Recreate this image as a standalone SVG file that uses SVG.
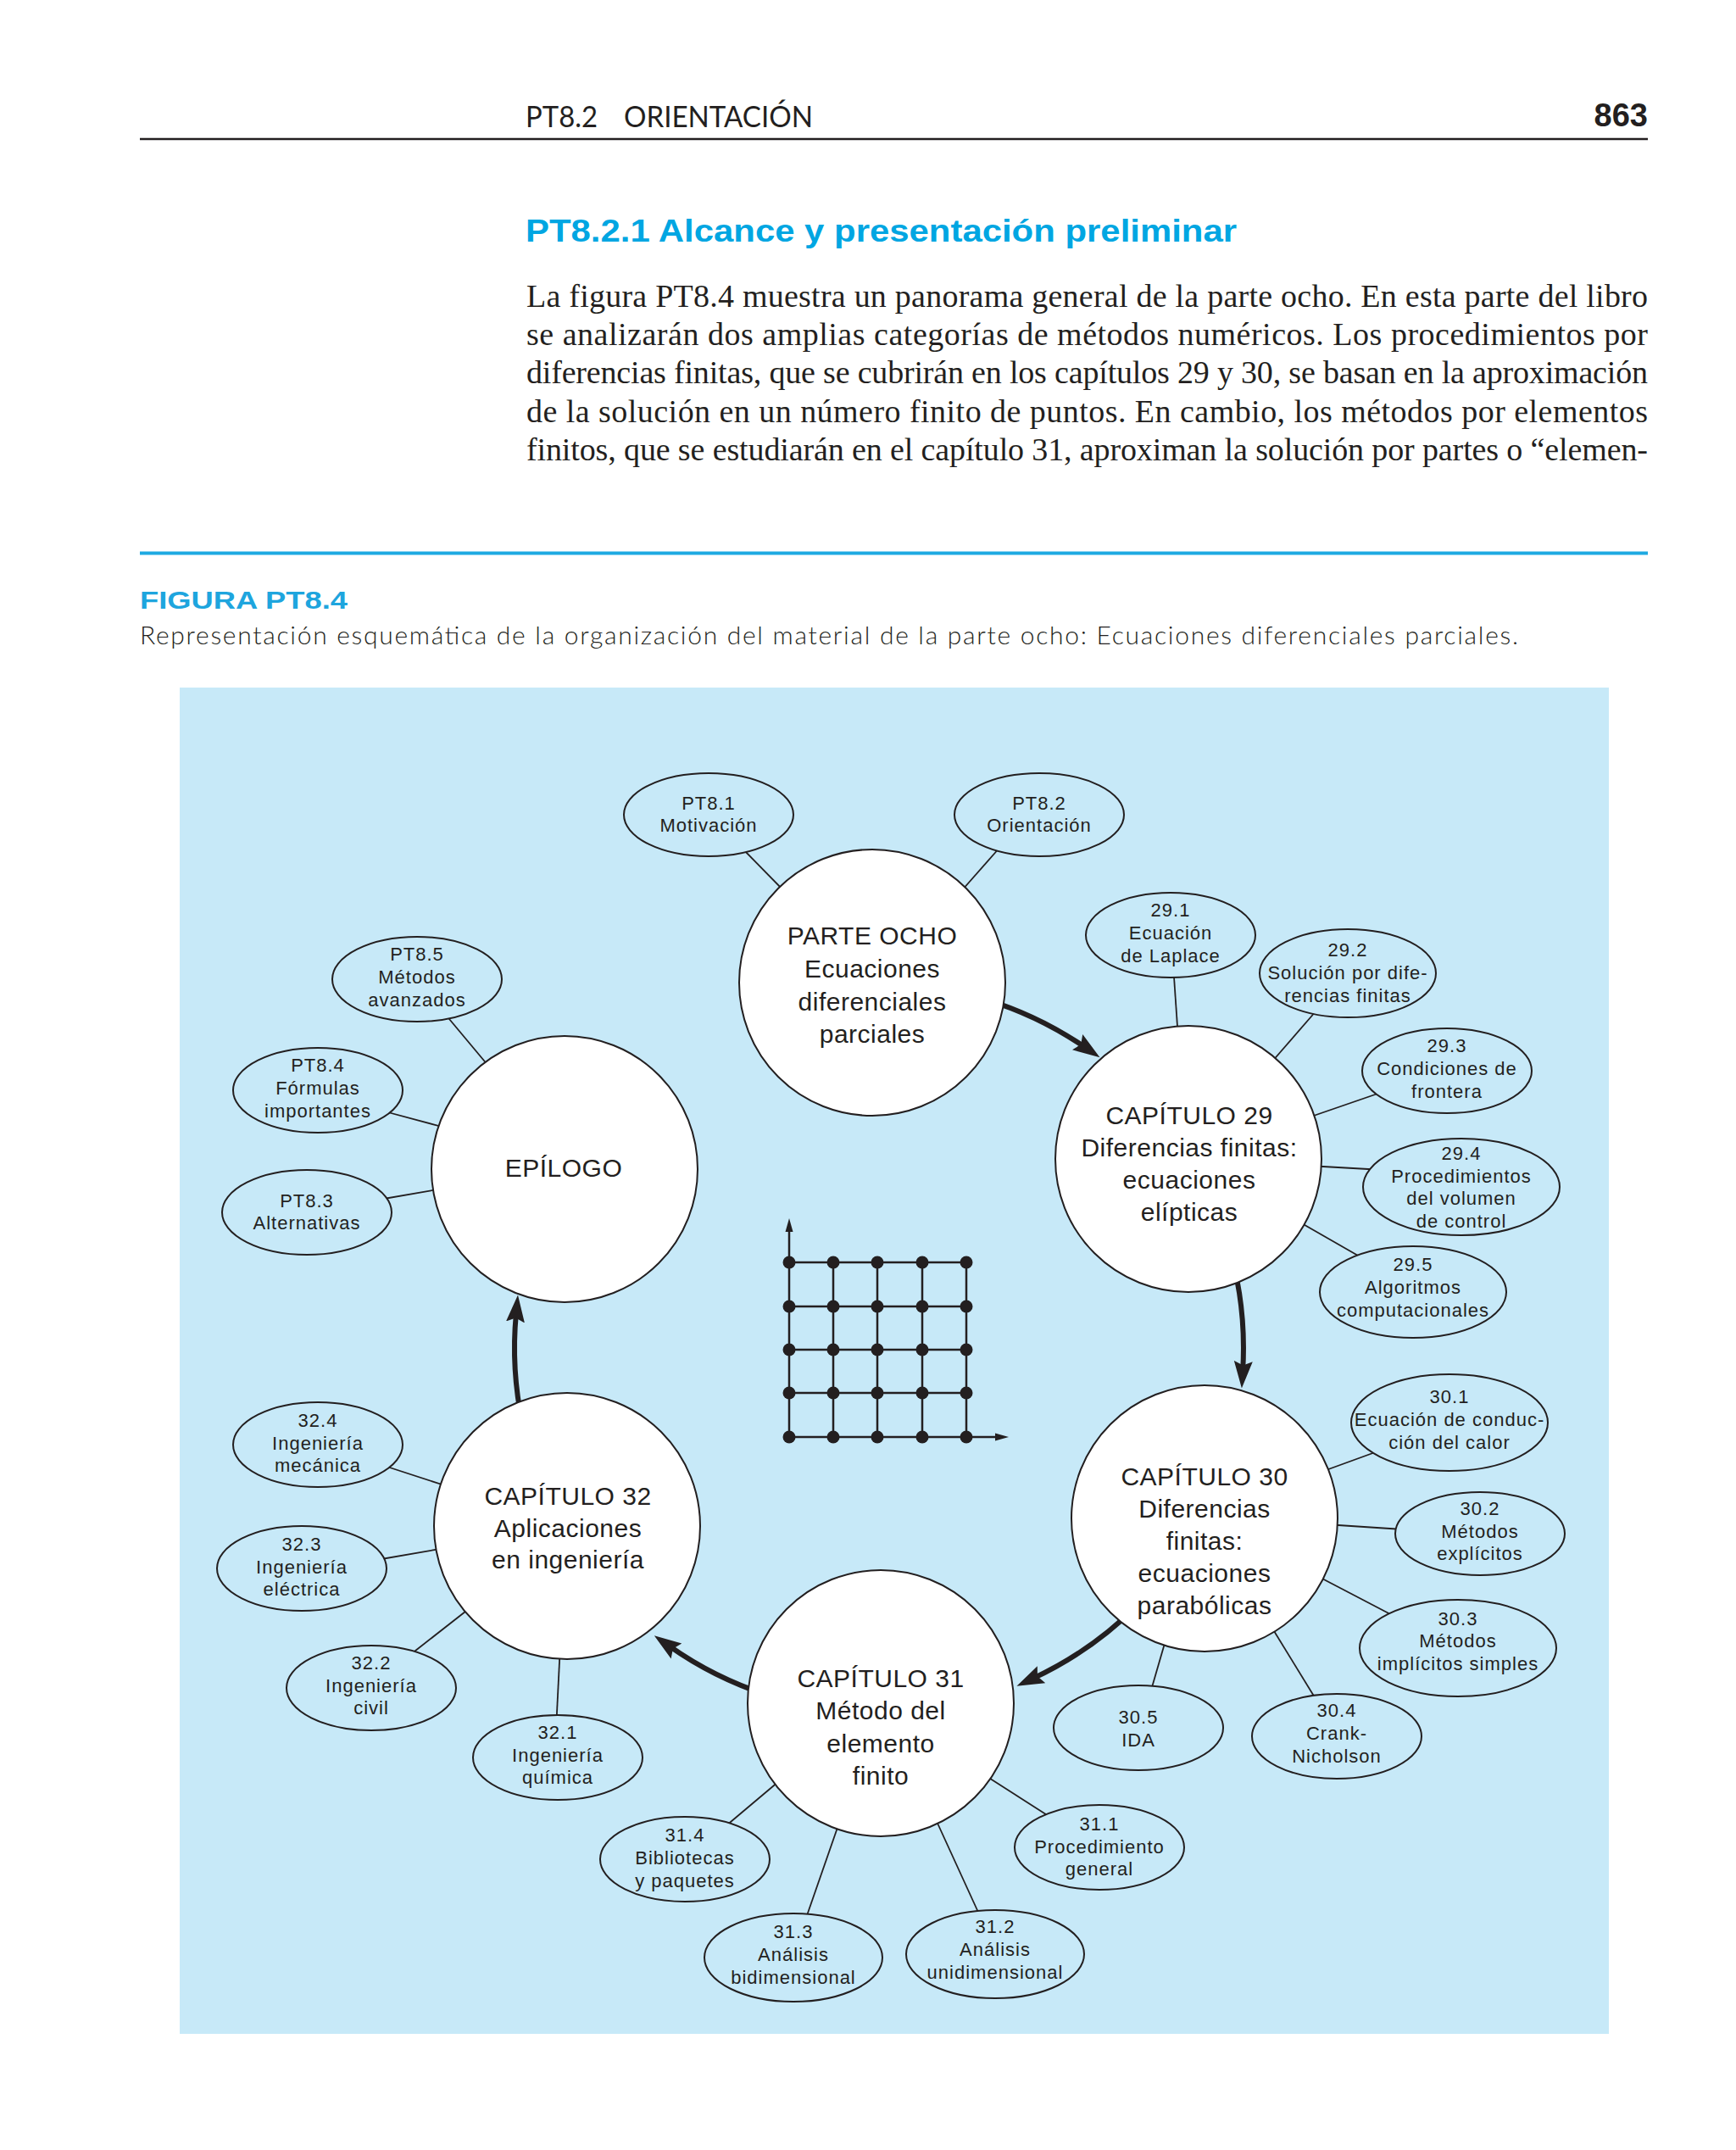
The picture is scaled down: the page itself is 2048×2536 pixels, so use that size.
<svg xmlns="http://www.w3.org/2000/svg" width="2048" height="2536" viewBox="0 0 2048 2536">
<defs>
<style>
.page{fill:#231f20;}
.sm{fill:#c7e9f8;stroke:#231f20;stroke-width:2;}
.big{fill:#ffffff;stroke:#231f20;stroke-width:2;}
.ln{stroke:#231f20;stroke-width:1.8;fill:none;}
.arr{fill:none;stroke:#231f20;stroke-width:6;}
.t1{font-family:"Liberation Sans",Arial,sans-serif;font-size:22px;letter-spacing:1px;text-anchor:middle;fill:#231f20;}
.t2{font-family:"Liberation Sans",Arial,sans-serif;font-size:30px;letter-spacing:0.5px;text-anchor:middle;fill:#231f20;}
.para{font-family:"Liberation Serif","Times New Roman",serif;font-size:38px;fill:#231f20;}
.grid{stroke:#231f20;stroke-width:2.5;fill:none;}
</style>
<marker id="ah" markerUnits="userSpaceOnUse" viewBox="0 -12 34 24" markerWidth="34" markerHeight="24" refX="10" refY="0" orient="auto">
<path d="M0,-11 L32,0 L0,11 L5,0 z" fill="#231f20"/>
</marker>
</defs>
<rect x="0" y="0" width="2048" height="2536" fill="#ffffff"/>

<!-- page header -->
<text x="620" y="150" font-family="Lato,'Liberation Sans',sans-serif" font-size="34" fill="#231f20" textLength="85" lengthAdjust="spacingAndGlyphs">PT8.2</text>
<text x="736" y="150" font-family="Lato,'Liberation Sans',sans-serif" font-size="34" fill="#231f20" textLength="223" lengthAdjust="spacingAndGlyphs">ORIENTACIÓN</text>
<text x="1944" y="149" font-family="'Liberation Sans',Arial,sans-serif" font-size="38" font-weight="bold" fill="#231f20" text-anchor="end">863</text>
<line x1="165" y1="164" x2="1944" y2="164" stroke="#231f20" stroke-width="2.5"/>

<text x="620" y="285" font-family="'Liberation Sans',Arial,sans-serif" font-size="37" font-weight="bold" fill="#00a6e2" textLength="839" lengthAdjust="spacingAndGlyphs">PT8.2.1 Alcance y presentación preliminar</text>

<text class="para" x="621" y="362" textLength="1323" lengthAdjust="spacing">La figura PT8.4 muestra un panorama general de la parte ocho. En esta parte del libro</text>
<text class="para" x="621" y="407" textLength="1323" lengthAdjust="spacing">se analizarán dos amplias categorías de métodos numéricos. Los procedimientos por</text>
<text class="para" x="621" y="452" textLength="1323" lengthAdjust="spacing">diferencias finitas, que se cubrirán en los capítulos 29 y 30, se basan en la aproximación</text>
<text class="para" x="621" y="498" textLength="1323" lengthAdjust="spacing">de la solución en un número finito de puntos. En cambio, los métodos por elementos</text>
<text class="para" x="621" y="543" textLength="1323" lengthAdjust="spacing">finitos, que se estudiarán en el capítulo 31, aproximan la solución por partes o “elemen-</text>

<line x1="165" y1="652.5" x2="1944" y2="652.5" stroke="#1eaae2" stroke-width="4"/>
<text x="165" y="718" font-family="'Liberation Sans',Arial,sans-serif" font-size="30" font-weight="bold" fill="#1ea5de" textLength="245" lengthAdjust="spacingAndGlyphs">FIGURA PT8.4</text>
<text x="165" y="760" font-family="Lato,'Liberation Sans',sans-serif" font-size="30" font-weight="300" fill="#231f20" textLength="1626" lengthAdjust="spacing">Representación esquemática de la organización del material de la parte ocho: Ecuaciones diferenciales parciales.</text>

<!-- panel -->
<rect x="212" y="811" width="1686" height="1588" fill="#c7e9f8"/>

<!-- grid illustration -->
<g id="grid">
<path class="grid" d="M931,1489 H1140 M931,1541 H1140 M931,1592 H1140 M931,1643 H1140 M931,1695 H1178"/>
<path class="grid" d="M931,1450 V1695 M983,1489 V1695 M1035,1489 V1695 M1088,1489 V1695 M1140,1489 V1695"/>
<polygon points="931,1437 926.5,1453 935.5,1453" fill="#231f20"/>
<polygon points="1190,1695 1174,1690.5 1174,1699.5" fill="#231f20"/>
<g fill="#231f20">
<circle cx="931" cy="1489" r="7.5"/><circle cx="983" cy="1489" r="7.5"/><circle cx="1035" cy="1489" r="7.5"/><circle cx="1088" cy="1489" r="7.5"/><circle cx="1140" cy="1489" r="7.5"/>
<circle cx="931" cy="1541" r="7.5"/><circle cx="983" cy="1541" r="7.5"/><circle cx="1035" cy="1541" r="7.5"/><circle cx="1088" cy="1541" r="7.5"/><circle cx="1140" cy="1541" r="7.5"/>
<circle cx="931" cy="1592" r="7.5"/><circle cx="983" cy="1592" r="7.5"/><circle cx="1035" cy="1592" r="7.5"/><circle cx="1088" cy="1592" r="7.5"/><circle cx="1140" cy="1592" r="7.5"/>
<circle cx="931" cy="1643" r="7.5"/><circle cx="983" cy="1643" r="7.5"/><circle cx="1035" cy="1643" r="7.5"/><circle cx="1088" cy="1643" r="7.5"/><circle cx="1140" cy="1643" r="7.5"/>
<circle cx="931" cy="1695" r="7.5"/><circle cx="983" cy="1695" r="7.5"/><circle cx="1035" cy="1695" r="7.5"/><circle cx="1088" cy="1695" r="7.5"/><circle cx="1140" cy="1695" r="7.5"/>
</g>
</g>

<!-- connectors -->
<g id="connectors">
<path class="ln" d="M875,1000 L927,1053"/>
<path class="ln" d="M1180,999 L1135,1050"/>
<path class="ln" d="M1384.5,1145 L1389.5,1218"/>
<path class="ln" d="M1553,1192 L1500,1253"/>
<path class="ln" d="M1631,1288 L1544,1318"/>
<path class="ln" d="M1623,1379.5 L1552,1375.5"/>
<path class="ln" d="M1609,1485 L1534,1442"/>
<path class="ln" d="M1625,1712 L1559,1736"/>
<path class="ln" d="M1655,1804 L1571,1798.5"/>
<path class="ln" d="M1646,1907 L1556,1860"/>
<path class="ln" d="M1554,2007 L1500,1919"/>
<path class="ln" d="M1357,1997 L1375,1935"/>
<path class="ln" d="M1240,2144 L1162,2094"/>
<path class="ln" d="M1157,2262 L1103,2144"/>
<path class="ln" d="M950,2265 L990,2150"/>
<path class="ln" d="M856,2154 L919,2101"/>
<path class="ln" d="M656.5,2030 L660.5,1950"/>
<path class="ln" d="M485,1951 L554,1897"/>
<path class="ln" d="M447,1839.5 L522,1826.5"/>
<path class="ln" d="M452,1728.5 L529,1753.5"/>
<path class="ln" d="M450,1414.5 L519,1402.5"/>
<path class="ln" d="M454,1311 L525,1330"/>
<path class="ln" d="M525,1196 L576,1257"/>
<path class="arr" marker-end="url(#ah)" d="M1162.7,1178.8 A430,430 0 0 1 1279.3,1234.8"/>
<path class="arr" marker-end="url(#ah)" d="M1454.2,1486 A430,430 0 0 1 1466.2,1615.5"/>
<path class="arr" marker-end="url(#ah)" d="M1341.1,1894.1 A430,430 0 0 1 1219.4,1979.4"/>
<path class="arr" marker-end="url(#ah)" d="M904.1,1999 A430,430 0 0 1 789.8,1941.8"/>
<path class="arr" marker-end="url(#ah)" d="M616.4,1679.4 A430,430 0 0 1 608.9,1549.5"/>
</g>

<!-- main nodes -->
<g id="parte-ocho"><circle class="big" cx="1029" cy="1159" r="157"/>
<text class="t2"><tspan x="1029" y="1114">PARTE OCHO</tspan><tspan x="1029" y="1153">Ecuaciones</tspan><tspan x="1029" y="1192">diferenciales</tspan><tspan x="1029" y="1230">parciales</tspan></text></g>
<g id="cap29"><circle class="big" cx="1402" cy="1367" r="157"/>
<text class="t2"><tspan x="1403" y="1326">CAPÍTULO 29</tspan><tspan x="1403" y="1364">Diferencias finitas:</tspan><tspan x="1403" y="1402">ecuaciones</tspan><tspan x="1403" y="1440">elípticas</tspan></text></g>
<g id="cap30"><circle class="big" cx="1421" cy="1791" r="157"/>
<text class="t2"><tspan x="1421" y="1752">CAPÍTULO 30</tspan><tspan x="1421" y="1790">Diferencias</tspan><tspan x="1421" y="1828">finitas:</tspan><tspan x="1421" y="1866">ecuaciones</tspan><tspan x="1421" y="1904">parabólicas</tspan></text></g>
<g id="cap31"><circle class="big" cx="1039" cy="2009" r="157"/>
<text class="t2"><tspan x="1039" y="1990">CAPÍTULO 31</tspan><tspan x="1039" y="2028">Método del</tspan><tspan x="1039" y="2067">elemento</tspan><tspan x="1039" y="2105">finito</tspan></text></g>
<g id="cap32"><circle class="big" cx="669" cy="1800" r="157"/>
<text class="t2"><tspan x="670" y="1775">CAPÍTULO 32</tspan><tspan x="670" y="1813">Aplicaciones</tspan><tspan x="670" y="1850">en ingeniería</tspan></text></g>
<g id="epilogo"><circle class="big" cx="666" cy="1379" r="157"/>
<text class="t2" x="665" y="1388">EPÍLOGO</text></g>

<!-- sub-topic nodes -->
<g id="pt81"><ellipse class="sm" cx="836" cy="961" rx="100" ry="49"/><text class="t1"><tspan x="836" y="955">PT8.1</tspan><tspan x="836" y="981">Motivación</tspan></text></g>
<g id="pt82"><ellipse class="sm" cx="1226" cy="961" rx="100" ry="49"/><text class="t1"><tspan x="1226" y="955">PT8.2</tspan><tspan x="1226" y="981">Orientación</tspan></text></g>
<g id="pt85"><ellipse class="sm" cx="492" cy="1155" rx="100" ry="50"/><text class="t1"><tspan x="492" y="1133">PT8.5</tspan><tspan x="492" y="1160">Métodos</tspan><tspan x="492" y="1187">avanzados</tspan></text></g>
<g id="pt84"><ellipse class="sm" cx="375" cy="1286" rx="100" ry="50"/><text class="t1"><tspan x="375" y="1264">PT8.4</tspan><tspan x="375" y="1291">Fórmulas</tspan><tspan x="375" y="1318">importantes</tspan></text></g>
<g id="pt83"><ellipse class="sm" cx="362" cy="1430" rx="100" ry="50"/><text class="t1"><tspan x="362" y="1424">PT8.3</tspan><tspan x="362" y="1450">Alternativas</tspan></text></g>

<g id="s29-1"><ellipse class="sm" cx="1381" cy="1103" rx="100" ry="50"/><text class="t1"><tspan x="1381" y="1081">29.1</tspan><tspan x="1381" y="1108">Ecuación</tspan><tspan x="1381" y="1135">de Laplace</tspan></text></g>
<g id="s29-2"><ellipse class="sm" cx="1590" cy="1148" rx="104" ry="52"/><text class="t1"><tspan x="1590" y="1128">29.2</tspan><tspan x="1590" y="1155">Solución por dife-</tspan><tspan x="1590" y="1182">rencias finitas</tspan></text></g>
<g id="s29-3"><ellipse class="sm" cx="1707" cy="1263" rx="100" ry="50"/><text class="t1"><tspan x="1707" y="1241">29.3</tspan><tspan x="1707" y="1268">Condiciones de</tspan><tspan x="1707" y="1295">frontera</tspan></text></g>
<g id="s29-4"><ellipse class="sm" cx="1724" cy="1400" rx="116" ry="57"/><text class="t1"><tspan x="1724" y="1368">29.4</tspan><tspan x="1724" y="1395">Procedimientos</tspan><tspan x="1724" y="1421">del volumen</tspan><tspan x="1724" y="1448">de control</tspan></text></g>
<g id="s29-5"><ellipse class="sm" cx="1667" cy="1524" rx="110" ry="54"/><text class="t1"><tspan x="1667" y="1499">29.5</tspan><tspan x="1667" y="1526">Algoritmos</tspan><tspan x="1667" y="1553">computacionales</tspan></text></g>

<g id="s30-1"><ellipse class="sm" cx="1710" cy="1678" rx="116" ry="57"/><text class="t1"><tspan x="1710" y="1655">30.1</tspan><tspan x="1710" y="1682">Ecuación de conduc-</tspan><tspan x="1710" y="1709">ción del calor</tspan></text></g>
<g id="s30-2"><ellipse class="sm" cx="1746" cy="1809" rx="100" ry="49"/><text class="t1"><tspan x="1746" y="1787">30.2</tspan><tspan x="1746" y="1814">Métodos</tspan><tspan x="1746" y="1840">explícitos</tspan></text></g>
<g id="s30-3"><ellipse class="sm" cx="1720" cy="1944" rx="116" ry="57"/><text class="t1"><tspan x="1720" y="1917">30.3</tspan><tspan x="1720" y="1943">Métodos</tspan><tspan x="1720" y="1970">implícitos simples</tspan></text></g>
<g id="s30-4"><ellipse class="sm" cx="1577" cy="2048" rx="100" ry="50"/><text class="t1"><tspan x="1577" y="2025">30.4</tspan><tspan x="1577" y="2052">Crank-</tspan><tspan x="1577" y="2079">Nicholson</tspan></text></g>
<g id="s30-5"><ellipse class="sm" cx="1343" cy="2038" rx="100" ry="50"/><text class="t1"><tspan x="1343" y="2033">30.5</tspan><tspan x="1343" y="2060">IDA</tspan></text></g>

<g id="s31-1"><ellipse class="sm" cx="1297" cy="2179" rx="100" ry="50"/><text class="t1"><tspan x="1297" y="2159">31.1</tspan><tspan x="1297" y="2186">Procedimiento</tspan><tspan x="1297" y="2212">general</tspan></text></g>
<g id="s31-2"><ellipse class="sm" cx="1174" cy="2305" rx="105" ry="52"/><text class="t1"><tspan x="1174" y="2280">31.2</tspan><tspan x="1174" y="2307">Análisis</tspan><tspan x="1174" y="2334">unidimensional</tspan></text></g>
<g id="s31-3"><ellipse class="sm" cx="936" cy="2309" rx="105" ry="52"/><text class="t1"><tspan x="936" y="2286">31.3</tspan><tspan x="936" y="2313">Análisis</tspan><tspan x="936" y="2340">bidimensional</tspan></text></g>
<g id="s31-4"><ellipse class="sm" cx="808" cy="2193" rx="100" ry="50"/><text class="t1"><tspan x="808" y="2172">31.4</tspan><tspan x="808" y="2199">Bibliotecas</tspan><tspan x="808" y="2226">y paquetes</tspan></text></g>

<g id="s32-1"><ellipse class="sm" cx="658" cy="2073" rx="100" ry="50"/><text class="t1"><tspan x="658" y="2051">32.1</tspan><tspan x="658" y="2078">Ingeniería</tspan><tspan x="658" y="2104">química</tspan></text></g>
<g id="s32-2"><ellipse class="sm" cx="438" cy="1991" rx="100" ry="50"/><text class="t1"><tspan x="438" y="1969">32.2</tspan><tspan x="438" y="1996">Ingeniería</tspan><tspan x="438" y="2022">civil</tspan></text></g>
<g id="s32-3"><ellipse class="sm" cx="356" cy="1850" rx="100" ry="50"/><text class="t1"><tspan x="356" y="1829">32.3</tspan><tspan x="356" y="1856">Ingeniería</tspan><tspan x="356" y="1882">eléctrica</tspan></text></g>
<g id="s32-4"><ellipse class="sm" cx="375" cy="1704" rx="100" ry="50"/><text class="t1"><tspan x="375" y="1683">32.4</tspan><tspan x="375" y="1710">Ingeniería</tspan><tspan x="375" y="1736">mecánica</tspan></text></g>
</svg>
